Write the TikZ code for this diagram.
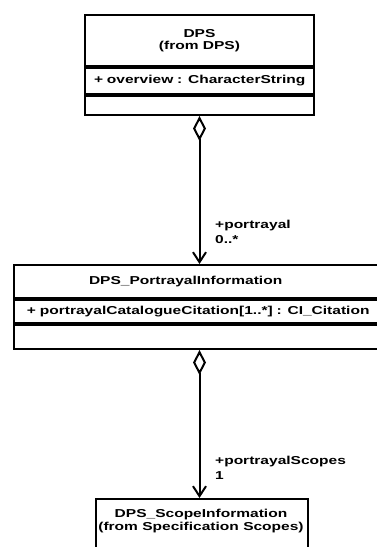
\documentclass[tikz,border=0pt]{standalone}
\usepackage{fontspec}
\setmainfont{Liberation Sans}[FakeStretch=1.35]
\usetikzlibrary{arrows.meta,positioning}

\tikzset{
    umlfont/.style={font=\fontsize{11.5}{12.5}\selectfont\bfseries},
    umlbox/.style={draw, line width=2pt, inner sep=0pt, umlfont},
    umlname/.style={umlbox, align=center},
    umlattr/.style={umlbox, align=left},
    aggr/.style={line width=2pt, {Diamond[open,length=25pt,width=13pt]}-{Straight Barb[length=10pt,width=13pt]}},
    rolelabel/.style={anchor=base west, align=left, inner sep=0pt, font=\fontsize{11.5}{15}\selectfont\bfseries}
}

\begin{document}
\begin{tikzpicture}[x=1pt, y=-1pt]
\useasboundingbox (0,0) rectangle (377,547);

% Classe DPS
\node[umlname, minimum width=229pt, minimum height=51pt, anchor=north west] (dps) at (84,14) {DPS\\(from DPS)};
\node[umlattr, below=0pt of dps, minimum height=26pt, text width=211pt, inner xsep=9pt] (dpsAttr) {\mbox{+ overview : CharacterString}};
\node[umlbox, below=0pt of dpsAttr, minimum width=229pt, minimum height=19pt] (dpsOps) {};

% Classe DPS_PortrayalInformation
\node[umlattr, minimum height=33pt, text width=217pt, inner xsep=75pt, anchor=north west] (pinf) at (13,264) {\mbox{DPS\_PortrayalInformation}};
\node[umlattr, below=0pt of pinf, minimum height=23pt, text width=341pt, inner xsep=13pt] (pinfAttr) {\mbox{+ portrayalCatalogueCitation[1..*] : CI\_Citation}};
\node[umlbox, below=0pt of pinfAttr, minimum width=367pt, minimum height=24pt] (pinfOps) {};

% Classe DPS_ScopeInformation
\node[umlbox, minimum width=212pt, minimum height=60pt, anchor=north west] (scope) at (95,498) {};
\node[umlfont, align=center, inner sep=0pt] (scopeName) at (201,521) {DPS\_ScopeInformation\\(from Specification Scopes)};

% Aggregazioni
\draw[aggr] (dpsOps.south) -- (dpsOps.south |- pinf.north);
\draw[aggr] (dpsOps.south |- pinfOps.south) -- (dpsOps.south |- scope.north);

% Ruoli e molteplicita (ancora sulla riga inferiore)
\node[rolelabel] (roleP) at (215,243) {+portrayal\\0..*};
\node[rolelabel] (roleS) at (215,479) {+portrayalScopes\\1};

\end{tikzpicture}
\end{document}
